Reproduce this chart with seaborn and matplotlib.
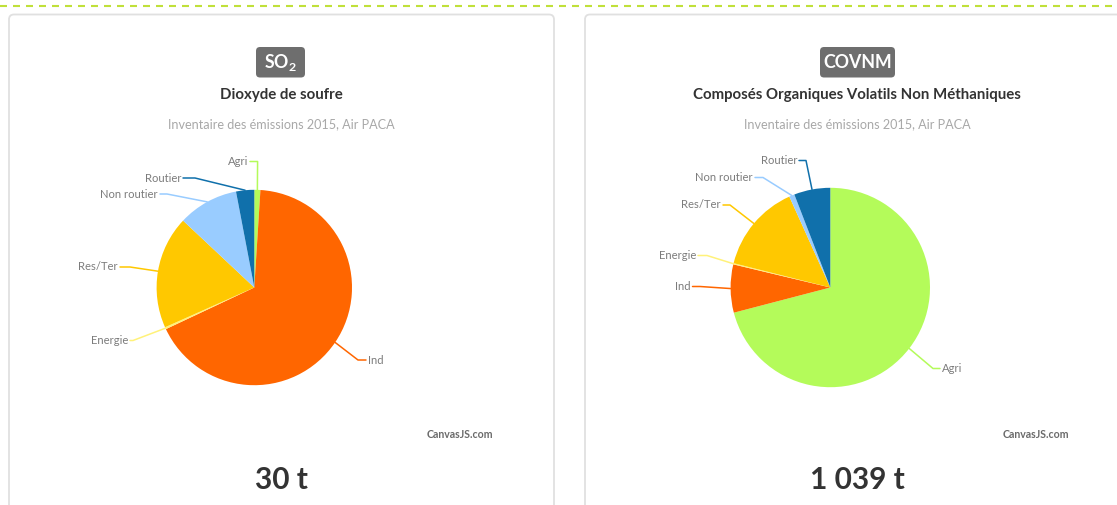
import matplotlib
matplotlib.use("Agg")
import matplotlib.pyplot as plt
from matplotlib.patches import FancyBboxPatch
import numpy as np
import pandas as pd
import seaborn as sns

# Emission sectors and 2015 inventory values (tonnes)
categories = ["Agri", "Ind", "Energie", "Res/Ter", "Non routier", "Routier"]
so2_values = [0.3, 20.1, 0.1, 5.6, 3.0, 0.9]
covnm_values = [737, 81, 2, 149, 9, 61]
sector_colors = ["#b4fb5a", "#ff6600", "#fff27a", "#ffc800", "#99ccff", "#1070ab"]

badges = ["SO$_2$", "COVNM"]
titles = ["Dioxyde de soufre", "Composés Organiques Volatils Non Méthaniques"]
subtitle = "Inventaire des émissions 2015, Air PACA"
totals = ["30 t", "1 039 t"]
credit = "CanvasJS.com"

df = pd.DataFrame({"secteur": categories, "SO2": so2_values, "COVNM": covnm_values})

sns.set_theme(style="white")
plt.rcParams["font.family"] = ["Lato", "DejaVu Sans"]
plt.rcParams["mathtext.default"] = "regular"

W, H = 1117, 505
fig = plt.figure(figsize=(W / 100, H / 100), dpi=100)
fig.patch.set_facecolor("white")
ax = fig.add_axes([0, 0, 1, 1])
ax.set_axis_off()


def Y(y):
    """Convert a top-down pixel row into the axes' bottom-up coordinate."""
    return H - y


# dashed rule along the top edge
rule, = ax.plot([0, W], [Y(5.5), Y(5.5)], color="#c0e03a", lw=1.5, solid_capstyle="butt")
rule.set_dashes([7 * 0.72 / 1.5, 6 * 0.72 / 1.5])

# the two cards
for x0, x1 in [(9, 554), (585, 1132)]:
    card = FancyBboxPatch((x0, Y(520)), x1 - x0, 520 - 14.5,
                          boxstyle="round,pad=0,rounding_size=5",
                          facecolor="white", edgecolor="#e0e0e0", lw=1.3, zorder=1)
    ax.add_patch(card)

panels = [
    dict(col="SO2", cx=254.3, cy=287.5, r=97.7, mid=281, badge=(256, 305),
         layout={
             "Agri": ("right", 248, 161.5, 257.6),
             "Routier": ("right", 181, 178, 195),
             "Non routier": ("right", 158, 194, 167),
             "Res/Ter": ("right", 118, 267, 130),
             "Energie": ("right", 128, 340.5, 133),
             "Ind": ("left", 368, 360, 358),
         }, credit_x=493),
    dict(col="COVNM", cx=830.3, cy=287.5, r=99.7, mid=857, badge=(820, 895),
         layout={
             "Agri": ("left", 942, 368.5, 933),
             "Ind": ("right", 690.5, 286.5, 700),
             "Energie": ("right", 696, 255.5, 707),
             "Res/Ter": ("right", 721, 205, 730),
             "Non routier": ("right", 753, 177.5, 763),
             "Routier": ("right", 797, 160.5, 806),
         }, credit_x=1069),
]

palette = sns.color_palette(sector_colors)

for i, p in enumerate(panels):
    values = df[p["col"]].to_numpy()
    wedges, _ = ax.pie(values, colors=palette, startangle=90, counterclock=False,
                       center=(p["cx"], Y(p["cy"])), radius=p["r"], frame=True,
                       wedgeprops=dict(linewidth=0))
    for w in wedges:
        w.set_zorder(3)

    # outside labels with elbow connectors in the slice colour
    for w, name, color in zip(wedges, df["secteur"], palette):
        theta = np.deg2rad((w.theta1 + w.theta2) / 2)
        rx = p["cx"] + p["r"] * np.cos(theta)
        ry = Y(p["cy"]) + p["r"] * np.sin(theta)
        ha, tx, ty, ex = p["layout"][name]
        end = tx + 2 if ha == "right" else tx - 2
        ax.plot([rx, ex, end], [ry, Y(ty), Y(ty)], color=color, lw=1.1, zorder=2,
                solid_joinstyle="round")
        ax.text(tx, Y(ty), name, ha=ha, va="center", fontsize=8.1,
                color="#7c7c7c", zorder=4)

    # badge with the pollutant code
    bx0, bx1 = p["badge"]
    ax.add_patch(FancyBboxPatch((bx0, Y(77.5)), bx1 - bx0, 30.5,
                                boxstyle="round,pad=0,rounding_size=4",
                                facecolor="#6e6e6e", edgecolor="none", zorder=3))
    ax.text((bx0 + bx1) / 2, Y(62.5), badges[i], ha="center", va="center",
            fontsize=12.8, fontweight="bold", color="white", zorder=4)

    ax.text(p["mid"], Y(95), titles[i], ha="center", va="center",
            fontsize=10.8, fontweight="bold", color="#333333", zorder=4)
    ax.text(p["mid"], Y(124), subtitle, ha="center", va="center",
            fontsize=9.1, color="#a8a8a8", zorder=4)
    ax.text(p["credit_x"], Y(435), credit, ha="right", va="center",
            fontsize=7.6, fontweight="bold", color="#6a6a6a", zorder=4)
    ax.text(p["mid"], Y(480), totals[i], ha="center", va="center",
            fontsize=21.5, fontweight="bold", color="#333333", zorder=4)

ax.set_xlim(0, W)
ax.set_ylim(0, H)
ax.set_aspect("auto")

fig.savefig("out.png", dpi=100, facecolor="white")
